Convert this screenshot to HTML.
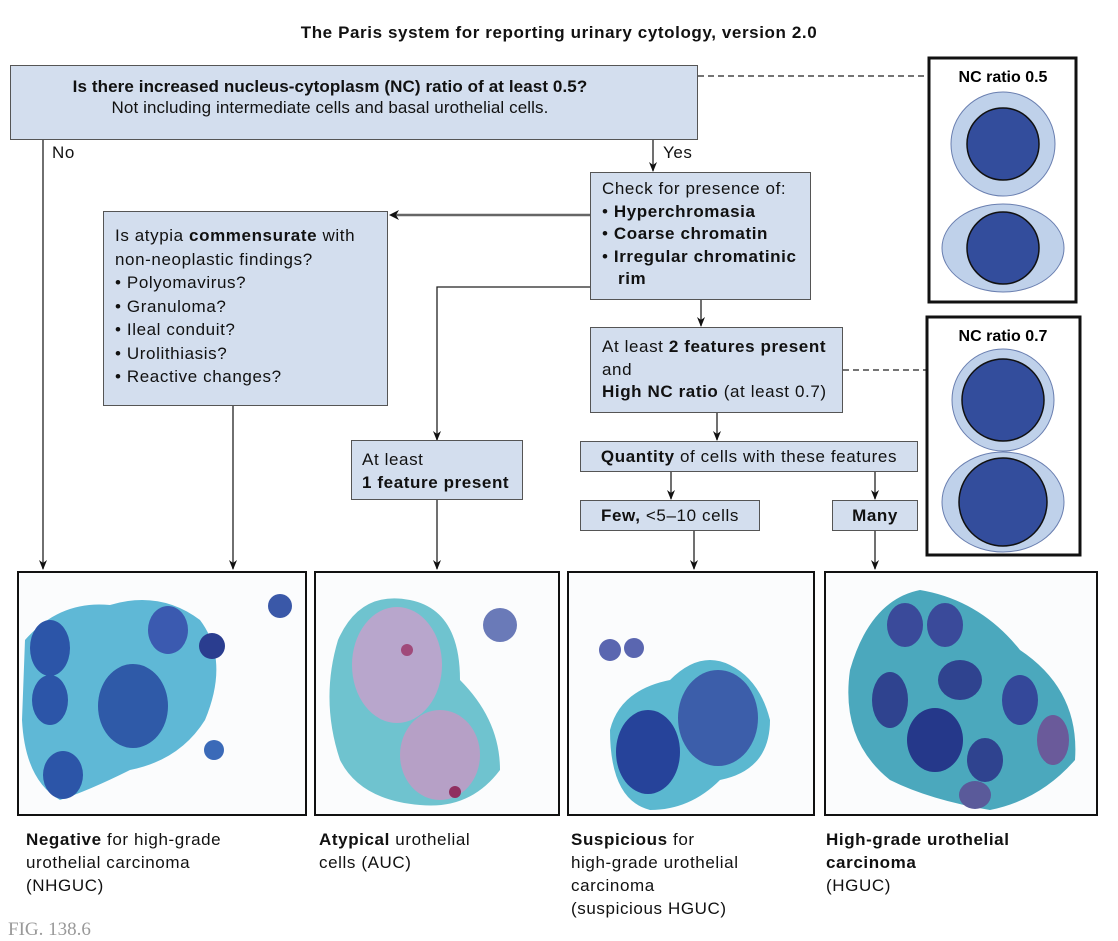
<!DOCTYPE html>
<html><head><meta charset="utf-8"><style>
body{margin:0;width:1118px;height:928px;background:#fff;position:relative;overflow:hidden;font-family:"Liberation Sans",sans-serif;color:#111}
.b{position:absolute;background:#d3deee;border:1.5px solid #555;box-sizing:border-box;font-size:17px;letter-spacing:0.6px;line-height:21px;white-space:nowrap}
.t{position:absolute;font-size:17px;letter-spacing:0.6px;line-height:23px;white-space:nowrap}
svg{position:absolute;left:0;top:0}
</style></head><body>
<svg width="1118" height="928">
<g stroke="#222" stroke-width="1.3" fill="none">
<path d="M43 140 V569"/>
<path d="M653 140 V171"/>
<path d="M590 215 H392" stroke="#666" stroke-width="2.5"/>
<path d="M590 287 H437 V440"/>
<path d="M701 300 V326"/>
<path d="M717 413 V440"/>
<path d="M671 472 V499"/>
<path d="M875 472 V499"/>
<path d="M233 406 V569"/>
<path d="M437 500 V569"/>
<path d="M694 531 V569"/>
<path d="M875 531 V569"/>
<path d="M698 76 H929" stroke-dasharray="6,4"/>
<path d="M843 370 H927" stroke-dasharray="6,4"/>
</g>
<g fill="#111">
<polygon points="39,560 43,570 47,560 43,563"/>
<polygon points="649,162 653,172 657,162 653,165"/>
<polygon points="399,210 389,215 399,220 396,215"/>
<polygon points="433,431 437,441 441,431 437,434"/>
<polygon points="697,317 701,327 705,317 701,320"/>
<polygon points="713,431 717,441 721,431 717,434"/>
<polygon points="667,490 671,500 675,490 671,493"/>
<polygon points="871,490 875,500 879,490 875,493"/>
<polygon points="229,560 233,570 237,560 233,563"/>
<polygon points="433,560 437,570 441,560 437,563"/>
<polygon points="690,560 694,570 698,560 694,563"/>
<polygon points="871,560 875,570 879,560 875,563"/>
</g>
<rect x="929" y="58" width="147" height="244" fill="#fff" stroke="#111" stroke-width="3"/>
<rect x="927" y="317" width="153" height="238" fill="#fff" stroke="#111" stroke-width="3"/>
<g stroke="#6a7fb0" stroke-width="1">
<circle cx="1003" cy="144" r="52" fill="#bfd1ea"/>
<ellipse cx="1003" cy="248" rx="61" ry="44" fill="#bfd1ea"/>
<circle cx="1003" cy="400" r="51" fill="#bfd1ea"/>
<ellipse cx="1003" cy="502" rx="61" ry="50" fill="#bfd1ea"/>
</g>
<g fill="#334d9c" stroke="#111" stroke-width="1.5">
<circle cx="1003" cy="144" r="36"/><circle cx="1003" cy="248" r="36"/>
<circle cx="1003" cy="400" r="41"/><circle cx="1003" cy="502" r="44"/>
</g>
<text x="1003" y="82" font-size="16" font-weight="bold" text-anchor="middle" font-family="Liberation Sans">NC ratio 0.5</text>
<text x="1003" y="341" font-size="16" font-weight="bold" text-anchor="middle" font-family="Liberation Sans">NC ratio 0.7</text>
<g stroke="#111" stroke-width="2">
<rect x="18" y="572" width="288" height="243" fill="#fbfcfd"/>
<rect x="315" y="572" width="244" height="243" fill="#fbfcfd"/>
<rect x="568" y="572" width="246" height="243" fill="#fbfcfd"/>
<rect x="825" y="572" width="272" height="243" fill="#fbfcfd"/>
</g>
<g stroke="none">
<path d="M25 640 Q60 600 110 605 Q160 590 200 620 Q230 660 205 720 Q180 760 130 770 Q90 790 60 800 Q25 780 22 720Z" fill="#5fb8d6"/>
<ellipse cx="50" cy="648" rx="20" ry="28" fill="#2c55a8"/><ellipse cx="50" cy="700" rx="18" ry="25" fill="#2c55a8"/>
<ellipse cx="133" cy="706" rx="35" ry="42" fill="#2f5aa8"/><ellipse cx="168" cy="630" rx="20" ry="24" fill="#3b5ab0"/>
<ellipse cx="63" cy="775" rx="20" ry="24" fill="#2c55a8"/><circle cx="212" cy="646" r="13" fill="#2a3d8f"/>
<circle cx="280" cy="606" r="12" fill="#3a58a8"/><circle cx="214" cy="750" r="10" fill="#3b6ab8"/>
<path d="M338 640 Q360 590 410 600 Q460 610 460 680 Q500 720 500 770 Q470 810 420 805 Q360 800 340 760 Q320 700 338 640Z" fill="#6fc3cf"/>
<ellipse cx="397" cy="665" rx="45" ry="58" fill="#b8a6cc"/><ellipse cx="440" cy="755" rx="40" ry="45" fill="#b6a0c6"/>
<circle cx="500" cy="625" r="17" fill="#6a7ab8"/><circle cx="407" cy="650" r="6" fill="#a04a7a"/><circle cx="455" cy="792" r="6" fill="#903060"/>
<path d="M610 730 Q620 690 670 680 Q700 650 730 665 Q760 680 770 720 Q770 770 720 780 Q690 810 650 810 Q610 800 610 730Z" fill="#5bb8d0"/>
<ellipse cx="648" cy="752" rx="32" ry="42" fill="#26439a"/><ellipse cx="718" cy="718" rx="40" ry="48" fill="#3c5eaa"/>
<circle cx="610" cy="650" r="11" fill="#5a66b0"/><circle cx="634" cy="648" r="10" fill="#5a66b0"/>
<path d="M850 670 Q870 600 920 590 Q980 600 1020 650 Q1080 690 1075 760 Q1040 800 990 810 Q930 800 890 780 Q840 740 850 670Z" fill="#4ba8bd"/>
<ellipse cx="905" cy="625" rx="18" ry="22" fill="#3a4a9a"/><ellipse cx="945" cy="625" rx="18" ry="22" fill="#3a4a9a"/>
<ellipse cx="890" cy="700" rx="18" ry="28" fill="#2f438f"/><ellipse cx="960" cy="680" rx="22" ry="20" fill="#2f438f"/>
<ellipse cx="935" cy="740" rx="28" ry="32" fill="#25388a"/><ellipse cx="1020" cy="700" rx="18" ry="25" fill="#34489a"/>
<ellipse cx="1053" cy="740" rx="16" ry="25" fill="#6a5a9a"/><ellipse cx="985" cy="760" rx="18" ry="22" fill="#2f438f"/>
<ellipse cx="975" cy="795" rx="16" ry="14" fill="#5a5a9a"/>
</g>
</svg>
<div class="t" style="left:0;width:1118px;top:21px;text-align:center;font-weight:bold">The Paris system for reporting urinary cytology, version 2.0</div>
<div class="b" style="left:10px;top:65px;width:688px;height:75px;text-align:center;padding:10px 48px 0 0;letter-spacing:0.1px">
<b>Is there increased nucleus-cytoplasm (NC) ratio of at least 0.5?</b><br>Not including intermediate cells and basal urothelial cells.</div>
<div class="t" style="left:52px;top:141px">No</div>
<div class="t" style="left:663px;top:141px">Yes</div>
<div class="b" style="left:103px;top:211px;width:285px;height:195px;padding:12px 0 0 11px;line-height:23.5px">Is atypia <b>commensurate</b> with<br>non-neoplastic findings?<br>• Polyomavirus?<br>• Granuloma?<br>• Ileal conduit?<br>• Urolithiasis?<br>• Reactive changes?</div>
<div class="b" style="left:590px;top:172px;width:221px;height:128px;padding:5px 0 0 11px;line-height:22.5px">Check for presence of:<br>• <b>Hyperchromasia</b><br>• <b>Coarse chromatin</b><br>• <b>Irregular chromatinic</b><br>&nbsp;&nbsp;&nbsp;<b>rim</b></div>
<div class="b" style="left:590px;top:327px;width:253px;height:86px;padding:8px 0 0 11px;line-height:22.5px">At least <b>2 features present</b><br>and<br><b>High NC ratio</b> (at least 0.7)</div>
<div class="b" style="left:351px;top:440px;width:172px;height:60px;padding:7px 0 0 10px;line-height:23px">At least<br><b>1 feature present</b></div>
<div class="b" style="left:580px;top:441px;width:338px;height:31px;padding-top:4px;text-align:center"><b>Quantity</b> of cells with these features</div>
<div class="b" style="left:580px;top:500px;width:180px;height:31px;padding-top:4px;text-align:center"><b>Few,</b> &lt;5–10 cells</div>
<div class="b" style="left:832px;top:500px;width:86px;height:31px;padding-top:4px;text-align:center"><b>Many</b></div>
<div class="t" style="left:26px;top:828px"><b>Negative</b> for high-grade<br>urothelial carcinoma<br>(NHGUC)</div>
<div class="t" style="left:319px;top:828px"><b>Atypical</b> urothelial<br>cells (AUC)</div>
<div class="t" style="left:571px;top:828px"><b>Suspicious</b> for<br>high-grade urothelial<br>carcinoma<br>(suspicious HGUC)</div>
<div class="t" style="left:826px;top:828px"><b>High-grade urothelial<br>carcinoma</b><br>(HGUC)</div>
<div class="t" style="left:8px;top:918px;font-family:'Liberation Serif',serif;color:#999;font-size:19px;letter-spacing:0">FIG. 138.6</div>
</body></html>
